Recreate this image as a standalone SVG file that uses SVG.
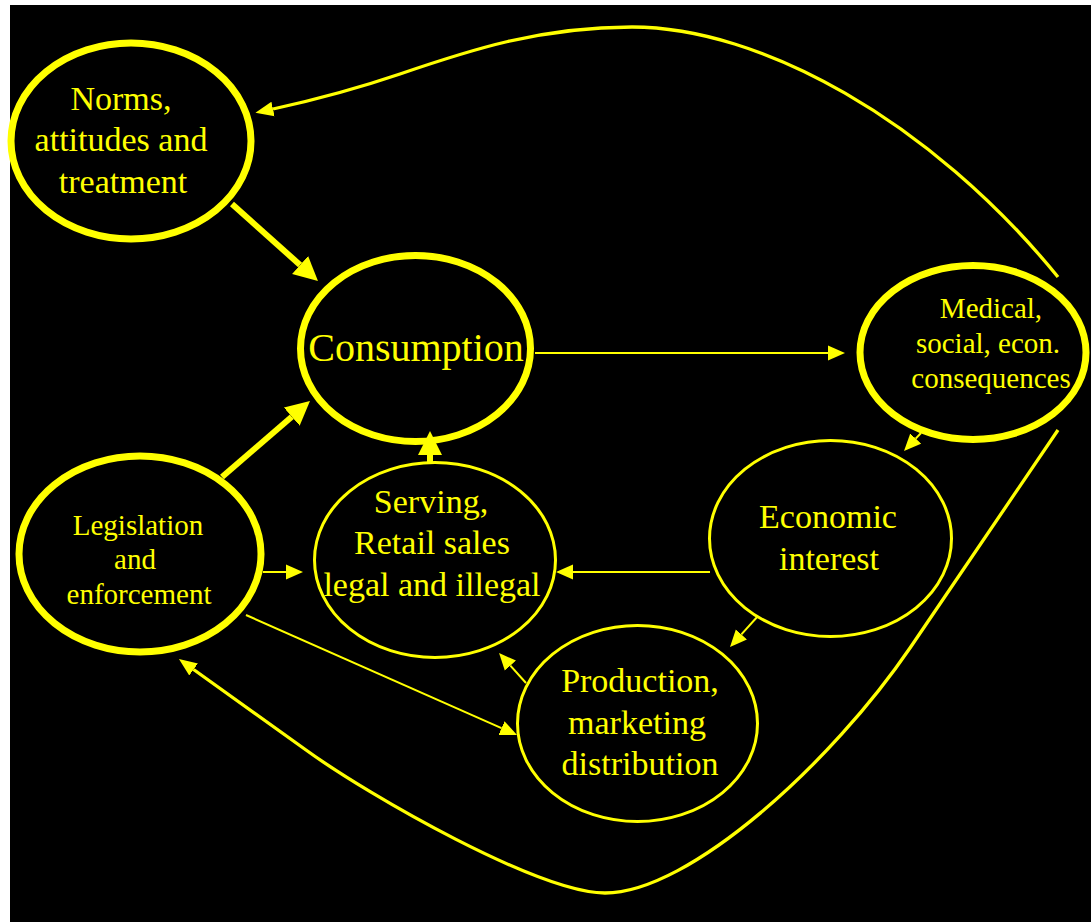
<svg xmlns="http://www.w3.org/2000/svg" width="1091" height="922" viewBox="0 0 1091 922">
<defs>
<style>
.bg{fill:#000000}
.thick{fill:none;stroke:#FFFF00;stroke-width:7}
.thin{fill:none;stroke:#FFFF00;stroke-width:3}
text{font-family:'Liberation Serif','Times New Roman','DejaVu Serif',serif;fill:#FFFF00;text-anchor:middle}
.c1{fill:none;stroke:#FFFF00;stroke-width:6}
.c2{fill:none;stroke:#FFFF00;stroke-width:2}
.c3{fill:none;stroke:#FFFF00;stroke-width:3.3}
</style>
<marker id="big" markerUnits="userSpaceOnUse" markerWidth="26" markerHeight="26" viewBox="0 -13 26 26" refX="0" refY="0" orient="auto">
<path d="M0,-12 L24,0 L0,12 Z" fill="#FFFF00"/>
</marker>
<marker id="small" markerUnits="userSpaceOnUse" markerWidth="18" markerHeight="16" viewBox="0 -8 18 16" refX="0" refY="0" orient="auto">
<path d="M0,-7.5 L17,0 L0,7.5 Z" fill="#FFFF00"/>
</marker>
<marker id="mid" markerUnits="userSpaceOnUse" markerWidth="19" markerHeight="16" viewBox="0 -8 19 16" refX="0" refY="0" orient="auto">
<path d="M0,-7.5 L18,0 L0,7.5 Z" fill="#FFFF00"/>
</marker>
</defs>
<rect class="bg" x="10" y="5" width="1081" height="917"/>

<g id="connectors">
<path class="c1" d="M232,204 L300.1,265" marker-end="url(#big)"/>
<path class="c1" d="M222,477 L291.8,416.7" marker-end="url(#big)"/>
<path class="c1" d="M430,462 L430,455" marker-end="url(#big)"/>
<path class="c2" d="M535,353 L828,353" marker-end="url(#small)"/>
<path class="c2" d="M921,433 L915.7,438.6" marker-end="url(#small)"/>
<path class="c2" d="M710,572 L573,572" marker-end="url(#small)"/>
<path class="c2" d="M758,616 L741.4,634.4" marker-end="url(#small)"/>
<path class="c2" d="M526,683 L510.4,665.6" marker-end="url(#small)"/>
<path class="c2" d="M263,572 L286,572" marker-end="url(#small)"/>
<path class="c2" d="M246,615 L501.5,728.1" marker-end="url(#small)"/>
<path class="c3" d="M1058,277 C930,120 760,27 632,27 C540,27 470,50 400,74 C350,91 305,102 273,109" marker-end="url(#mid)"/>
<path class="c3" d="M1058,430 L910,648 C833,761 690,893 605,893 C540,893 371,797 306,750 L193.6,669.5" marker-end="url(#mid)"/>
</g>

<g id="norms" font-family="Liberation Serif, serif">
<ellipse class="thick" cx="131" cy="141" rx="120" ry="98"/>
<text font-size="34" x="121" y="110">Norms,</text>
<text font-size="34" x="121" y="151">attitudes and</text>
<text font-size="34" x="123" y="193">treatment</text>
</g>

<g id="consumption" font-family="Liberation Serif, serif">
<ellipse class="thick" cx="415.5" cy="348.5" rx="115" ry="93"/>
<text font-size="40" x="416" y="361">Consumption</text>
</g>

<g id="medical" font-family="Liberation Serif, serif">
<ellipse class="thick" cx="973" cy="352.5" rx="113" ry="87"/>
<text font-size="29" x="991" y="318">Medical,</text>
<text font-size="29" x="988" y="353">social, econ.</text>
<text font-size="29" x="991" y="388">consequences</text>
</g>

<g id="legislation" font-family="Liberation Serif, serif">
<ellipse class="thick" cx="140" cy="554" rx="121" ry="98"/>
<text font-size="29" x="138" y="535">Legislation</text>
<text font-size="29" x="135" y="569">and</text>
<text font-size="29" x="139" y="604">enforcement</text>
</g>

<g id="serving" font-family="Liberation Serif, serif">
<ellipse class="thin" cx="435" cy="560" rx="120.5" ry="97.5"/>
<text font-size="34" x="431" y="513">Serving,</text>
<text font-size="34" x="432" y="554">Retail sales</text>
<text font-size="34" x="432" y="596">legal and illegal</text>
</g>

<g id="economic" font-family="Liberation Serif, serif">
<ellipse class="thin" cx="830.5" cy="538.5" rx="121" ry="98"/>
<text font-size="34" x="828" y="528">Economic</text>
<text font-size="34" x="829" y="570">interest</text>
</g>

<g id="production" font-family="Liberation Serif, serif">
<ellipse class="thin" cx="637.5" cy="723.5" rx="120" ry="98"/>
<text font-size="34" x="640" y="692">Production,</text>
<text font-size="34" x="637" y="734">marketing</text>
<text font-size="34" x="640" y="775">distribution</text>
</g>
</svg>
